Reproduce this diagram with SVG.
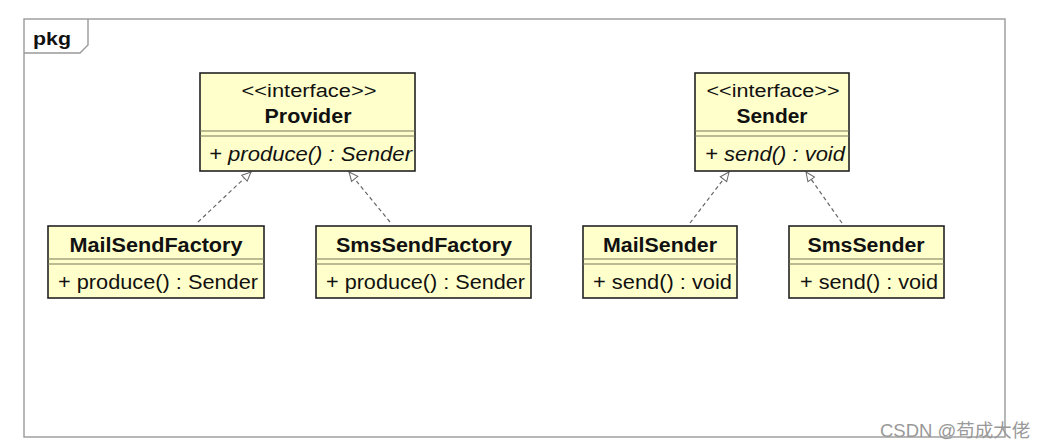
<svg xmlns="http://www.w3.org/2000/svg" width="1048" height="448" viewBox="0 0 1048 448">
<style>
.box{fill:#ffffcc;stroke:#222;stroke-width:1.6}
.sep{stroke:#77775a;stroke-width:1;fill:none}
.frame{fill:none;stroke:#999;stroke-width:1.4}
.t{font-family:"Liberation Sans",Arial,sans-serif;fill:#111}
.st{font-size:18px;text-anchor:middle}
.nm{font-size:20px;font-weight:bold;text-anchor:middle}
.op{font-size:20px}
.it{font-style:italic}
.conn{stroke:#666;stroke-width:1.2;stroke-dasharray:4,3;fill:none}
.wm{font-family:"Liberation Sans","Noto Sans CJK SC",sans-serif;font-size:18.5px;fill:#999}
</style>
<defs>
<marker id="tri" markerWidth="12" markerHeight="12" refX="10" refY="5" orient="auto" markerUnits="userSpaceOnUse">
<path d="M1,1 L10,5 L1,9 Z" fill="#fff" stroke="#666" stroke-width="1"/>
</marker>
</defs>
<rect width="1048" height="448" fill="#fff"/>
<g id="package">
<rect class="frame" x="24" y="19" width="981" height="418"/>
<path class="frame" d="M24,53 L80,53 L88,45 L88,19"/>
<text class="t" x="33" y="45" font-size="18" font-weight="bold" textLength="38" lengthAdjust="spacingAndGlyphs">pkg</text>
</g>
<g id="connectors">
<line class="conn" x1="198" y1="222" x2="251" y2="172" marker-end="url(#tri)"/>
<line class="conn" x1="390" y1="222" x2="349" y2="172" marker-end="url(#tri)"/>
<line class="conn" x1="690" y1="223" x2="729" y2="172" marker-end="url(#tri)"/>
<line class="conn" x1="842" y1="223" x2="806" y2="172" marker-end="url(#tri)"/>
</g>
<g id="Provider">
<rect class="box" x="200" y="73" width="215" height="98"/>
<line class="sep" x1="200" y1="131" x2="415" y2="131"/>
<line class="sep" x1="200" y1="136" x2="415" y2="136"/>
<text class="t st" x="309" y="97" textLength="135" lengthAdjust="spacingAndGlyphs">&lt;&lt;interface&gt;&gt;</text>
<text class="t nm" x="308" y="123" textLength="87" lengthAdjust="spacingAndGlyphs">Provider</text>
<text class="t op it" x="209" y="161" textLength="203" lengthAdjust="spacingAndGlyphs">+ produce() : Sender</text>
</g>
<g id="Sender">
<rect class="box" x="695" y="73" width="154" height="98"/>
<line class="sep" x1="695" y1="131" x2="849" y2="131"/>
<line class="sep" x1="695" y1="136" x2="849" y2="136"/>
<text class="t st" x="773" y="97" textLength="133" lengthAdjust="spacingAndGlyphs">&lt;&lt;interface&gt;&gt;</text>
<text class="t nm" x="772" y="123" textLength="71" lengthAdjust="spacingAndGlyphs">Sender</text>
<text class="t op it" x="705" y="161" textLength="140" lengthAdjust="spacingAndGlyphs">+ send() : void</text>
</g>
<g id="MailSendFactory">
<rect class="box" x="48" y="226" width="216" height="72"/>
<line class="sep" x1="48" y1="259" x2="264" y2="259"/>
<line class="sep" x1="48" y1="264" x2="264" y2="264"/>
<text class="t nm" x="156" y="252" textLength="173" lengthAdjust="spacingAndGlyphs">MailSendFactory</text>
<text class="t op" x="58" y="289" textLength="200" lengthAdjust="spacingAndGlyphs">+ produce() : Sender</text>
</g>
<g id="SmsSendFactory">
<rect class="box" x="316" y="226" width="215" height="72"/>
<line class="sep" x1="316" y1="259" x2="531" y2="259"/>
<line class="sep" x1="316" y1="264" x2="531" y2="264"/>
<text class="t nm" x="424" y="252" textLength="176" lengthAdjust="spacingAndGlyphs">SmsSendFactory</text>
<text class="t op" x="326" y="289" textLength="199" lengthAdjust="spacingAndGlyphs">+ produce() : Sender</text>
</g>
<g id="MailSender">
<rect class="box" x="583" y="226" width="154" height="72"/>
<line class="sep" x1="583" y1="259" x2="737" y2="259"/>
<line class="sep" x1="583" y1="264" x2="737" y2="264"/>
<text class="t nm" x="660" y="252" textLength="114" lengthAdjust="spacingAndGlyphs">MailSender</text>
<text class="t op" x="593" y="289" textLength="139" lengthAdjust="spacingAndGlyphs">+ send() : void</text>
</g>
<g id="SmsSender">
<rect class="box" x="789" y="226" width="155" height="72"/>
<line class="sep" x1="789" y1="259" x2="944" y2="259"/>
<line class="sep" x1="789" y1="264" x2="944" y2="264"/>
<text class="t nm" x="866" y="252" textLength="117" lengthAdjust="spacingAndGlyphs">SmsSender</text>
<text class="t op" x="800" y="289" textLength="138" lengthAdjust="spacingAndGlyphs">+ send() : void</text>
</g>
<text class="wm" x="880" y="437">CSDN @苟成大佬</text>
</svg>
